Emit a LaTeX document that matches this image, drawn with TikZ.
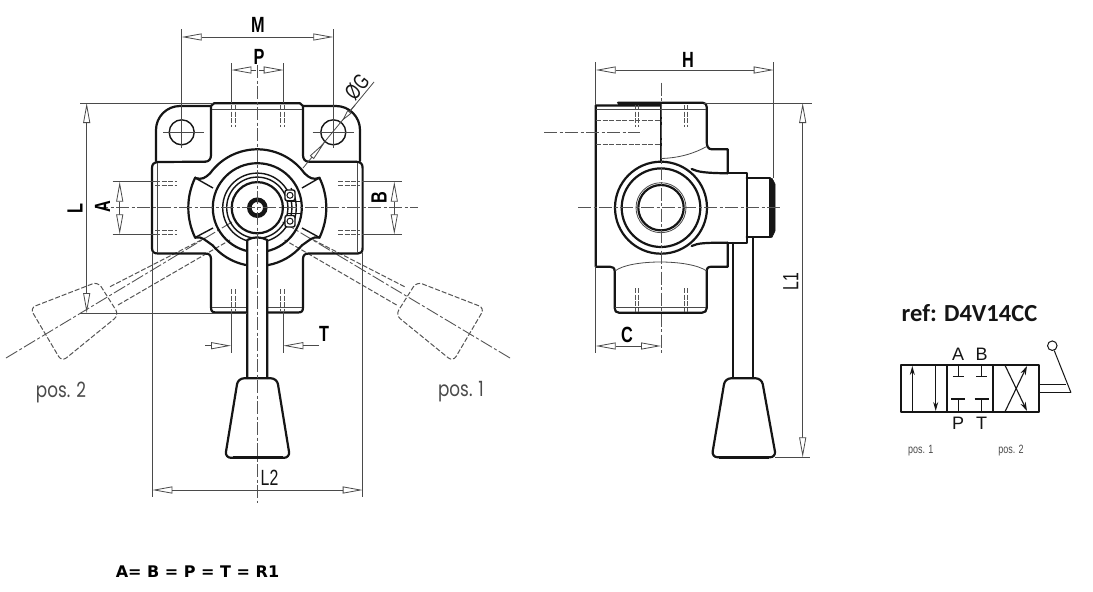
\documentclass[tikz,border=0pt]{standalone}
\usepackage{fontspec}
\usetikzlibrary{arrows.meta,calc}
\setmainfont{Liberation Sans}
\newfontfamily\dimfont[FakeStretch=0.74]{Liberation Sans}
\newfontfamily\dimthin[FakeStretch=0.72]{Liberation Sans}
\newfontfamily\posfont[FakeStretch=0.8]{Poppins}
\newfontfamily\smallpos[FakeStretch=0.75]{Liberation Sans}
\newfontfamily\refbold{Carlito}
\newfontfamily\formula{DejaVu Sans}
\definecolor{ink}{HTML}{151515}
\definecolor{thinc}{HTML}{4A4A4A}
\definecolor{dashc}{HTML}{555555}
\tikzset{
  heavy/.style={draw=ink,line width=2.2pt,line join=round,line cap=round},
  med/.style={draw=ink,line width=1.4pt},
  fine/.style={draw=thinc,line width=0.8pt},
  ctr/.style={draw=dashc,line width=0.9pt,dash pattern=on 13pt off 2.5pt on 3pt off 2.5pt},
  hid/.style={draw=dashc,line width=0.9pt,dash pattern=on 5pt off 1.5pt},
  ghost/.style={draw=dashc,line width=1pt,dash pattern=on 5pt off 2pt},
  dimar/.style={fine,{Triangle[open,length=20pt,width=7pt,fill=white]}-{Triangle[open,length=20pt,width=7pt,fill=white]}},
  onear/.style={fine,-{Triangle[open,length=20pt,width=7pt,fill=white]}},
  dimlab/.style={inner sep=0pt,font=\dimfont\bfseries\fontsize{22}{24}\selectfont,text=black},
  thinlab/.style={inner sep=0pt,font=\dimthin\fontsize{22}{24}\selectfont,text=ink},
  poslab/.style={inner sep=0pt,font=\posfont\fontsize{21}{23}\selectfont,text=thinc},
  minipos/.style={inner sep=0pt,font=\smallpos\fontsize{12}{14}\selectfont,text=thinc},
  portlab/.style={inner sep=0pt,font=\fontsize{18}{20}\selectfont,text=ink},
}
\begin{document}
\begin{tikzpicture}[x=1pt,y=-1pt]
\useasboundingbox (0,0) rectangle (1093,592);
\fill[white] (0,0) rectangle (1093,592);
\coordinate (c) at (257.3,207.7);
\coordinate (s) at (661,207.7);

% ---------- dashed alternative lever positions
\draw[ghost,rounded corners=6pt] (30,308) -- (98,281.7) -- (119,315) -- (61.7,361.7) -- cycle;
\draw[ghost] (110,286.7) -- (205,238);
\draw[ghost] (118,305) -- (230,240);
\draw[ctr] (6,358) -- (232,222);
\draw[ghost,rounded corners=6pt] (484.6,308) -- (416.6,281.7) -- (395.6,315) -- (453,361.7) -- cycle;
\draw[ghost] (404.6,286.7) -- (309.6,238);
\draw[ghost] (396.6,305) -- (284.6,240);
\draw[ctr] (510,358) -- (282.6,222);

% ---------- front view body
\draw[heavy] (205,161.7) -- (162,161.7);
\draw[heavy] (156,161) -- (156,130) arc[start angle=180,end angle=270,radius=24] -- (211,106);
\draw[heavy] (205,161.7) .. controls (209,161.7) and (211,159) .. (211,155) -- (211,106) -- (214,103.3) -- (300,103.3) -- (303,106) -- (303,155) .. controls (303,159) and (305,161.7) .. (309,161.7) -- (356,161.7);
\draw[heavy] (303,106) -- (336,106) arc[start angle=270,end angle=360,radius=24] -- (360,161);
\draw[heavy] (205,161.7) -- (158,162) .. controls (154,162.5) and (152,164) .. (152,168) -- (152,248) .. controls (152,252) and (154,253.5) .. (158,253.5) -- (205,253.5)
  .. controls (209,253.5) and (211,255) .. (211,259) -- (211,307) .. controls (211,311) and (212,312.5) .. (216,312.5) -- (298,312.5)
  .. controls (302,312.5) and (303,311) .. (303,307) -- (303,259) .. controls (303,255) and (305,253.5) .. (309,253.5) -- (358,253.5)
  .. controls (361,253.5) and (362.6,252) .. (362.6,248) -- (362.6,168) .. controls (362.6,164) and (361,162) .. (356,161.7);
\draw[fine] (157.5,163) -- (157.5,253);
\draw[fine] (357,163) -- (357,253);
\draw[fine] (212,109) -- (302,109);
\draw[fine] (212,307.5) -- (302,307.5);
% mounting holes
\node[draw=ink,line width=1.4pt,circle,minimum size=25pt,inner sep=0pt] (holeL) at (181.7,132.3) {};
\node[draw=ink,line width=1.4pt,circle,minimum size=25pt,inner sep=0pt] (holeR) at (333.3,132.3) {};
\draw[fine] (163,132.3) -- (204,132.3);
\draw[fine] (312.7,132.3) -- (354,132.3);
\draw[fine] (181.7,29) -- (181.7,148);
\draw[fine] (333.3,29) -- (333.3,148);
% threads
\foreach \tx in {231,235,280,284}{
  \draw[hid] (\tx,105) -- (\tx,127);
  \draw[hid] (\tx,289) -- (\tx,311);
}
\foreach \ty in {181.7,185,230.7,234.3}{
  \draw[hid] (155,\ty) -- (177,\ty);
  \draw[hid] (338,\ty) -- (360,\ty);
}
% rotary head
\draw[heavy] ($(c)+(-144:58.4)$) arc[start angle=-144,end angle=-36,radius=58.4];
\draw[heavy] ($(c)+(154:69)$) arc[start angle=154,end angle=206,radius=69];
\draw[heavy] ($(c)+(-26:69)$) arc[start angle=-26,end angle=26,radius=69];
\draw[heavy] ($(c)+(140:58.4)$) arc[start angle=140,end angle=40,radius=58.4];
\draw[heavy] (195.3,178) .. controls (202,180) and (205,178) .. ($(c)+(-144:58.4)$);
\draw[heavy] (319.3,178) .. controls (312.6,180) and (309.6,178) .. ($(c)+(-36:58.4)$);
\draw[heavy] (195.3,237.4) .. controls (202,236) and (206,241) .. ($(c)+(140:58.4)$);
\draw[heavy] (319.3,237.4) .. controls (312.6,236) and (308.6,241) .. ($(c)+(40:58.4)$);
\draw[med] (195.3,178) -- (213,188);
\draw[med] (319.3,178) -- (302,188);
\draw[med] (195.3,237.4) -- (213,228);
\draw[med] (319.3,237.4) -- (302,228);
\draw[heavy] (c) circle[radius=44.5];
\draw[med] (c) circle[radius=34.6];
\draw[med] (c) circle[radius=30.6];
\draw[heavy] (c) circle[radius=25.6];
\draw[draw=ink,line width=4.5pt] (c) circle[radius=8];
% retaining ring ears
\draw[med] ($(c)+(-30:39)$) arc[start angle=-30,end angle=30,radius=39];
\draw[med] (288,201.7) -- (300.5,201.7);
\draw[med] (288,213.5) -- (300.5,213.5);
\draw[med,fill=white,rounded corners=2pt] (285,190) rectangle (295,200.7);
\draw[med,fill=white,rounded corners=2pt] (285,215.5) rectangle (295,227);
\node[draw=ink,line width=1pt,circle,minimum size=6pt,inner sep=0pt] (earA) at (290,195.3) {};
\node[draw=ink,line width=1pt,circle,minimum size=6pt,inner sep=0pt] (earB) at (290,221.2) {};
% lever
\fill[white] (247.3,378) -- (247.3,240) .. controls (253,236.5) and (261,236.5) .. (267.3,240) -- (267.3,378) -- cycle;
\draw[heavy] (247.3,378) -- (247.3,240) .. controls (253,236.5) and (261,236.5) .. (267.3,240) -- (267.3,378);
\draw[heavy,rounded corners=6pt] (238,378.3) -- (277,378.3) -- (290,457.8) -- (225,457.8) -- cycle;
\draw[draw=ink,line width=3.2pt] (233,457.6) -- (283,457.6);
% centre lines
\draw[ctr] (257.3,65) -- (257.3,502.7);
\draw[ctr] (95,207.7) -- (418,207.7);

% ---------- front view dimensions
\draw[dimar] (181.7,37) -- (333.3,37);
\node[dimlab] (lblM) at (258,25) {M};
\draw[fine] (231.3,63) -- (231.3,103);
\draw[fine] (283.7,63) -- (283.7,103);
\draw[onear] (256,70) -- (231.3,70);
\draw[onear] (259,70) -- (283.7,70);
\node[dimlab] (lblP) at (259,57) {P};
% L
\draw[fine] (80,103) -- (213,103);
\draw[fine] (80,313) -- (247,313);
\draw[dimar] (86.7,103) -- (86.7,313);
\node[dimlab,rotate=90] (lblL) at (75,209) {L};
% A
\draw[fine] (112.7,181.7) -- (155,181.7);
\draw[fine] (112.7,234.3) -- (155,234.3);
\draw[dimar] (119.7,181.7) -- (119.7,234.3);
\node[dimlab,rotate=90] (lblA) at (102.5,207) {A};
% B
\draw[fine] (362,181.7) -- (401.7,181.7);
\draw[fine] (362,234.3) -- (401.7,234.3);
\draw[dimar] (394.3,181.7) -- (394.3,234.3);
\node[dimlab,rotate=90] (lblB) at (379,197.5) {B};
% L2
\draw[fine] (152.3,253) -- (152.3,496.7);
\draw[fine] (362.7,253) -- (362.7,496.7);
\draw[dimar] (152.3,490) -- (362.7,490);
\node[thinlab] (lblLtwo) at (269.5,478) {L2};
% T
\draw[fine] (231,312) -- (231,352.7);
\draw[fine] (283.3,312) -- (283.3,352.7);
\draw[onear] (205,345.7) -- (231,345.7);
\draw[onear] (319,345.7) -- (283.3,345.7);
\node[dimlab] (lblT) at (324,334) {T};
% OG
\draw[fine] (303,168) -- (374,82);
\draw[fine,-{Triangle[open,length=21pt,width=5pt,fill=white]}] (313,156) -- (325.5,141.5);
\draw[fine,-{Triangle[open,length=12pt,width=5pt,fill=white]}] (355,105) -- (342,121);
\node[thinlab,rotate=50] (lblG) at (357,87) {ØG};
\node[poslab] (posb) at (61,392) {pos. 2};
\node[poslab] (posa) at (461,392) {pos. 1};
\node[inner sep=0pt,font=\formula\bfseries\fontsize{16}{18}\selectfont] (eqn) at (197.5,572) {A= B = P = T = R1};

% ---------- side view
\draw[heavy] (661,105.5) -- (595.7,105.5) -- (595.7,266.7) -- (610,266.7) .. controls (613,266.7) and (614.7,268) .. (614.7,271.7) -- (614.7,308) .. controls (614.7,311) and (616,312.7) .. (619,312.7) -- (702,312.7) .. controls (705,312.7) and (706.7,311) .. (706.7,308) -- (706.7,271.7) .. controls (706.7,268) and (708,266.7) .. (711.7,266.7) -- (727.7,266.7) -- (727.7,242.7);
\draw[heavy] (618,102.8) -- (703,102.8) .. controls (705.5,102.8) and (706.7,104.5) .. (706.7,107) -- (706.7,141.7) .. controls (706.7,146) and (708,149.3) .. (712,149.3) -- (727.7,149.3) -- (727.7,173.3);
\draw[line width=3pt,draw=ink] (618,104) -- (661,104);
\draw[heavy] (661,105.5) -- (661,161.7);
\draw[heavy] (727.7,173.3) -- (746.7,173.3) -- (746.7,242.7) -- (727.7,242.7);
\draw[heavy] (691.7,169) .. controls (698,172) and (705,173) .. (727.7,173.3);
\draw[heavy] (691.7,246) .. controls (698,243) and (705,242.7) .. (727.7,242.7);
\draw[heavy] (746.7,178.3) -- (770,178.3);
\draw[heavy] (746.7,237.3) -- (770,237.3);
\draw[draw=ink,fill=ink,line width=0.6pt] (769.5,178.3) -- (772,178.3) -- (775,184) -- (775,231) -- (772,237.3) -- (769.5,237.3) -- cycle;
\draw[fine] (615,271) .. controls (630,259) and (690,259) .. (706.7,271);
\draw[fine] (661,158.5) .. controls (680,158) and (695,153) .. (706.7,146.5);
\draw[fine] (596,109) -- (706,109);
\draw[fine] (615,307) -- (706,307);
\draw[hid] (596,120) -- (661,120);
\draw[hid] (596,144) -- (661,144);
\foreach \tx in {635,638.3,684,687.3}{
  \draw[hid] (\tx,105) -- (\tx,127);
  \draw[hid] (\tx,288) -- (\tx,311.7);
}
\draw[ctr] (544,132.3) -- (640,132.3);
\draw[heavy] (s) circle[radius=46];
\draw[heavy] (s) circle[radius=39.3];
\draw[fine] (s) circle[radius=25];
\draw[heavy] (s) circle[radius=22.7];
% side lever
\draw[heavy] (733.3,243) -- (733.3,378);
\draw[heavy] (753.3,237.5) -- (753.3,378);
\draw[heavy,rounded corners=6pt] (725,378.3) -- (761.7,378.3) -- (776,457.3) -- (711.7,457.3) -- cycle;
\draw[draw=ink,line width=3.2pt] (719,457.1) -- (769,457.1);
% side centre lines
\draw[ctr] (661,82.7) -- (661,353);
\draw[ctr] (578,207.7) -- (781.7,207.7);
% side dimensions
\draw[fine] (595.7,62) -- (595.7,105);
\draw[fine] (595.7,266) -- (595.7,353);
\draw[fine] (773.7,62) -- (773.7,178);
\draw[dimar] (595.7,70) -- (773.7,70);
\node[dimlab] (lblH) at (688,60) {H};
\draw[dimar] (595.7,346) -- (661,346);
\node[dimlab] (lblC) at (627,335) {C};
\draw[fine] (704,103) -- (812,103);
\draw[fine] (775,457.3) -- (810,457.3);
\draw[dimar] (802.7,103) -- (802.7,457.3);
\node[thinlab,rotate=90] (lblLone) at (790.7,281.7) {L1};

% ---------- hydraulic symbol
\node[inner sep=0pt,font=\refbold\bfseries\fontsize{24.5}{27}\selectfont,text=ink] (refn) at (969.5,313) {ref: D4V14CC};
\draw[heavy,line width=1.9pt] (900.7,365.3) rectangle (1039,411.7);
\draw[heavy,line width=1.9pt] (947.3,365.3) -- (947.3,411.7);
\draw[heavy,line width=1.9pt] (992.7,365.3) -- (992.7,411.7);
\draw[draw=ink,line width=1pt,-{Stealth[length=9pt,width=5pt]}] (912.3,411.7) -- (912.3,366);
\draw[draw=ink,line width=1pt,-{Stealth[length=9pt,width=5pt]}] (935.7,365.3) -- (935.7,411);
\foreach \tx in {958.3,981.7}{
  \draw[draw=ink,line width=1.1pt] (\tx,365.3) -- (\tx,376.7);
  \draw[draw=ink,line width=1.4pt] (\tx-5.5,376.7) -- (\tx+5.5,376.7);
  \draw[draw=ink,line width=1.1pt] (\tx,399.3) -- (\tx,411.7);
  \draw[draw=ink,line width=2.2pt] (\tx-7,399.3) -- (\tx+7,399.3);
}
\draw[draw=ink,line width=1.1pt,-{Stealth[length=9pt,width=5.5pt]}] (1005,411.7) -- (1027,366);
\draw[draw=ink,line width=1.1pt,-{Stealth[length=9pt,width=5.5pt]}] (1005,365.3) -- (1027,411);
\draw[draw=ink,line width=1pt] (1039,384) -- (1065.7,384);
\draw[draw=ink,line width=1pt] (1039,392.7) -- (1071,392.7);
\node[draw=ink,line width=1pt,circle,minimum size=9.5pt,inner sep=0pt] (knob) at (1052.3,345.7) {};
\draw[draw=ink,line width=1pt] (knob) -- (1071,392.7);
\node[portlab] (pA) at (958,354.5) {A};
\node[portlab] (pB) at (981.5,354.5) {B};
\node[portlab] (pP) at (958,423) {P};
\node[portlab] (pT) at (981.5,423) {T};
\node[minipos] (miniA) at (920.7,450.5) {pos. 1};
\node[minipos] (miniB) at (1011,450.5) {pos. 2};
\end{tikzpicture}
\end{document}
